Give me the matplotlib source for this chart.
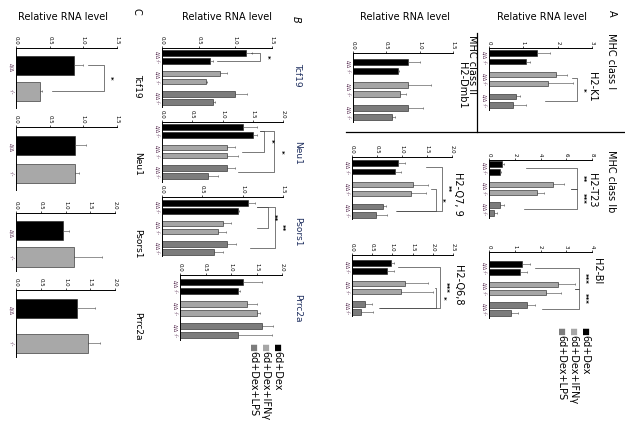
import numpy as np
import matplotlib
matplotlib.use("Agg")
import matplotlib.pyplot as plt

plt.rcParams['font.family'] = ['DejaVu Sans']

W, H = 625, 432

# ---- data ----
groups = ['6d+Dex', '6d+Dex+IFNγ', '6d+Dex+LPS']
genotypes = ['Δ/Δ', '-/-']

# panel A (MHC genes), order: Dex Δ/Δ, Dex -/-, IFN Δ/Δ, IFN -/-, LPS Δ/Δ, LPS -/-
h2k1 = [1.39, 1.09, 1.95, 1.73, 0.80, 0.70]
h2k1_err = [0.39, 0.10, 0.32, 0.73, 0.10, 0.39]
h2t23 = [1.00, 0.85, 5.00, 3.70, 0.85, 0.40]
h2t23_err = [0.20, 0.05, 0.80, 0.60, 0.35, 0.20]
h2bl = [1.27, 1.20, 2.67, 2.23, 1.47, 0.87]
h2bl_err = [0.33, 0.27, 0.67, 0.57, 0.30, 0.27]
h2dmb1 = [0.83, 0.67, 0.82, 0.71, 0.82, 0.58]
h2dmb1_err = [0.17, 0.02, 0.35, 0.09, 0.23, 0.05]
h2q79 = [0.91, 0.85, 1.21, 1.17, 0.61, 0.47]
h2q79_err = [0.14, 0.12, 0.30, 0.30, 0.07, 0.22]
h2q68 = [0.97, 0.87, 1.32, 1.21, 0.33, 0.22]
h2q68_err = [0.08, 0.18, 0.56, 0.79, 0.17, 0.29]

# panel B
b_tcf19 = [1.15, 0.66, 0.79, 0.60, 1.00, 0.70]
b_tcf19_err = [0.08, 0.04, 0.09, 0.02, 0.16, 0.02]
b_neu1 = [1.34, 1.50, 1.07, 1.07, 1.08, 0.76]
b_neu1_err = [0.23, 0.07, 0.13, 0.18, 0.12, 0.16]
b_psors1 = [1.06, 0.94, 0.75, 0.70, 0.81, 0.64]
b_psors1_err = [0.09, 0.02, 0.11, 0.09, 0.11, 0.11]
b_prrc2a = [1.24, 1.14, 1.31, 1.50, 1.60, 1.14]
b_prrc2a_err = [0.36, 0.04, 0.19, 0.06, 0.23, 0.66]

# panel C (Δ/Δ, -/-)
c_tcf19 = [0.86, 0.35]
c_tcf19_err = [0.14, 0.03]
c_neu1 = [0.87, 0.87]
c_neu1_err = [0.17, 0.06]
c_psors1 = [0.94, 1.17]
c_psors1_err = [0.14, 0.56]
c_prrc2a = [1.23, 1.46]
c_prrc2a_err = [0.37, 0.24]

# significance: (from position, to position, bracket x, label, arm start from, arm start to)
sig_h2k1 = [(2.9, 5.5, 2.57, '*', 2.42, 1.63)]
sig_h2t23 = [(0.5, 3.0, 6.8, '**', 2.9, 6.4), (3.0, 5.5, 6.8, '***', 6.4, 2.7)]
sig_h2bl = [(0.5, 3.0, 3.5, '***', 1.8, 3.35), (3.0, 5.5, 3.5, '***', 3.35, 2.07)]
sig_h2q79 = [(0.5, 5.5, 1.8, '**', 1.47, 0.87), (3.0, 5.5, 1.67, '*', 1.57, 0.9)]
sig_h2q68 = [(0.5, 5.5, 2.17, '***', 1.15, 0.66), (3.0, 5.5, 2.09, '*', 2.05, 0.7)]
sig_b_tcf19 = [(0.0, 1.0, 1.34, '*', 1.22, 0.75)]
sig_b_neu1 = [(0.5, 3.0, 1.69, '*', 1.62, 1.32), (0.5, 5.5, 1.85, '*', 1.62, 1.26)]
sig_b_psors1 = [(0.5, 3.0, 1.31, '**', 1.18, 1.18), (0.5, 5.5, 1.40, '**', 1.18, 1.09)]
sig_c_tcf19 = [(0.0, 1.0, 1.30, '*', 1.07, 0.54)]

pos6 = [0, 1, 2.5, 3.5, 5, 6]
pos2 = [0, 1]
col6 = ['#000000', '#000000', '#a6a6a6', '#a6a6a6', '#7c7c7c', '#7c7c7c']
col2 = ['#000000', '#a8a8a8']
cats6 = genotypes * 3
lab_col = '#5e3558'

fig = plt.figure(figsize=(W / 100, H / 100), dpi=100)


def panel(x0, x1, y0, c1, c2, y1, vals, errs, xmax, ticks, fmt, pos, cols,
          thick, sig=(), cat_fs=3.4):
    ax = fig.add_axes([x0 / W, 1 - y1 / H, (x1 - x0) / W, (y1 - y0) / H])
    ppu = (c2 - c1) / (pos[-1] - pos[0])
    top = pos[0] - (c1 - y0) / ppu
    bot = pos[-1] + (y1 - c2) / ppu
    n = len(vals)
    ax.barh(pos, vals, height=thick / ppu, color=cols, edgecolor='#1a1a1a',
            linewidth=0.4, xerr=[np.zeros(n), errs],
            error_kw=dict(ecolor='#555555', elinewidth=0.45, capsize=1.0,
                          capthick=0.45))
    ax.set_xlim(0, xmax)
    ax.set_ylim(bot, top)
    ax.xaxis.tick_top()
    ax.set_xticks(ticks)
    ax.set_xticklabels([fmt.format(t) for t in ticks], rotation=-90,
                       fontsize=3.9)
    ax.tick_params(axis='x', length=1.5, width=0.5, pad=0.8)
    ax.set_yticks(pos)
    ax.set_yticklabels(cats6 if n == 6 else genotypes, rotation=-90,
                       fontsize=cat_fs, color=lab_col)
    ax.tick_params(axis='y', length=0, pad=1.5)
    for s in ['right', 'bottom']:
        ax.spines[s].set_visible(False)
    for s in ['top', 'left']:
        ax.spines[s].set_linewidth(0.7)
    ax.patch.set_visible(False)
    for ya, yb, xb, lab, sa, sb in sig:
        ax.plot([sa, xb, xb, sb], [ya, ya, yb, yb], color='#444444', lw=0.5,
                clip_on=False)
        ax.text(xb + xmax * 0.03, (ya + yb) / 2, lab, rotation=-90,
                ha='left', va='center', fontsize=5, fontweight='bold',
                clip_on=False)
    return ax


# panel A, right column
panel(489, 592, 48, 53, 105, 110, h2k1, h2k1_err, 3, [0, 1, 2, 3], '{:g}',
      pos6, col6, 5.5, sig_h2k1)
panel(489, 592, 160, 164, 213, 218, h2t23, h2t23_err, 8, [0, 2, 4, 6, 8],
      '{:g}', pos6, col6, 5.5, sig_h2t23)
panel(489, 592, 252, 264, 313, 318, h2bl, h2bl_err, 4, [0, 1, 2, 3, 4],
      '{:g}', pos6, col6, 5.5, sig_h2bl)
# panel A, left column
panel(353, 453, 53, 62, 117, 122, h2dmb1, h2dmb1_err, 1.5,
      [0, 0.5, 1.0, 1.5], '{:.1f}', pos6, col6, 5.5)
panel(352, 452, 157, 163, 215, 219, h2q79, h2q79_err, 2.0,
      [0, 0.5, 1.0, 1.5, 2.0], '{:.1f}', pos6, col6, 5.5, sig_h2q79)
panel(352, 453, 255, 263, 312, 316, h2q68, h2q68_err, 2.5,
      [0, 0.5, 1.0, 1.5, 2.0, 2.5], '{:.1f}', pos6, col6, 5.5, sig_h2q68)

# panel B
panel(162, 272, 48, 53, 102, 107, b_tcf19, b_tcf19_err, 1.5,
      [0, 0.5, 1.0, 1.5], '{:.1f}', pos6, col6, 5.5, sig_b_tcf19)
panel(162, 283, 122, 127, 176, 182, b_neu1, b_neu1_err, 2.0,
      [0, 0.5, 1.0, 1.5, 2.0], '{:.1f}', pos6, col6, 5.5, sig_b_neu1)
panel(162, 283, 197, 203, 252, 256, b_psors1, b_psors1_err, 1.5,
      [0, 0.5, 1.0, 1.5], '{:.1f}', pos6, col6, 5.5, sig_b_psors1)
panel(180, 282, 275, 282, 335, 340, b_prrc2a, b_prrc2a_err, 2.0,
      [0, 0.5, 1.0, 1.5, 2.0], '{:.1f}', pos6, col6, 5.5)

# panel C
panel(16, 117, 48, 65, 91, 108, c_tcf19, c_tcf19_err, 1.5,
      [0, 0.5, 1.0, 1.5], '{:.1f}', pos2, col2, 19, sig_c_tcf19, 3.8)
panel(16, 117, 127, 145, 173, 190, c_neu1, c_neu1_err, 1.5,
      [0, 0.5, 1.0, 1.5], '{:.1f}', pos2, col2, 19, (), 3.8)
panel(16, 115, 213, 231, 257, 271, c_psors1, c_psors1_err, 2.0,
      [0, 0.5, 1.0, 1.5, 2.0], '{:.1f}', pos2, col2, 19, (), 3.8)
panel(16, 115, 290, 308, 343, 357, c_prrc2a, c_prrc2a_err, 2.0,
      [0, 0.5, 1.0, 1.5, 2.0], '{:.1f}', pos2, col2, 19, (), 3.8)


def ftext(x, y, s, size=7, rot=-90, **kw):
    fig.text(x / W, 1 - y / H, s, rotation=rot, fontsize=size, **kw)


# axis titles (horizontal in the rotated page)
for xc in [542, 405, 227, 63]:
    ftext(xc, 17, 'Relative RNA level', 7, 0, ha='center', va='center')

ftext(612, 10, 'A', 7, ha='center', va='top')
ftext(296, 16, 'B', 7, ha='center', va='top', style='italic')
ftext(137, 8, 'C', 7, ha='center', va='top')

# gene titles
ftext(611, 33, 'MHC class I', 7, ha='center', va='top')
ftext(592, 72, 'H2-K1', 7, ha='center', va='top')
ftext(472, 35, 'MHC class II', 7, ha='center', va='top')
ftext(462, 62, 'H2-Dmb1', 7, ha='center', va='top')
ftext(611, 150, 'MHC class Ib', 7, ha='center', va='top')
ftext(592, 173, 'H2-T23', 7, ha='center', va='top')
ftext(458, 172, 'H2-Q7, 9', 7, ha='center', va='top')
ftext(597, 258, 'H2-Bl', 7, ha='center', va='top')
ftext(458, 265, 'H2-Q6,8', 7, ha='center', va='top')

b_names = ['Tcf19', 'Neu1', 'Psors1', 'Prrc2a']
for name, yc in zip(b_names, [75, 153, 232, 308]):
    ftext(298, yc, name, 6.5, ha='center', va='center', color='#1f2f5f')
for name, yc in zip(b_names, [86, 164, 244, 326]):
    ftext(138, yc, name, 6.5, ha='center', va='center')

# section dividers in panel A
fig.add_artist(plt.Line2D([477 / W, 477 / W], [1 - 33 / H, 1 - 132 / H],
                          color='black', lw=0.9))
fig.add_artist(plt.Line2D([346 / W, 625 / W], [1 - 132 / H, 1 - 132 / H],
                          color='black', lw=0.9))

# legends
for xs, ys in [(585, 327), (277, 343)]:
    for i, g in enumerate(groups):
        xx = xs - i * 12
        ftext(xx, ys, '■', 6, ha='center', va='top',
              color=['#000000', '#a6a6a6', '#7c7c7c'][i])
        ftext(xx, ys + 8, g, 7, ha='center', va='top')

fig.savefig('out.png', dpi=100)
